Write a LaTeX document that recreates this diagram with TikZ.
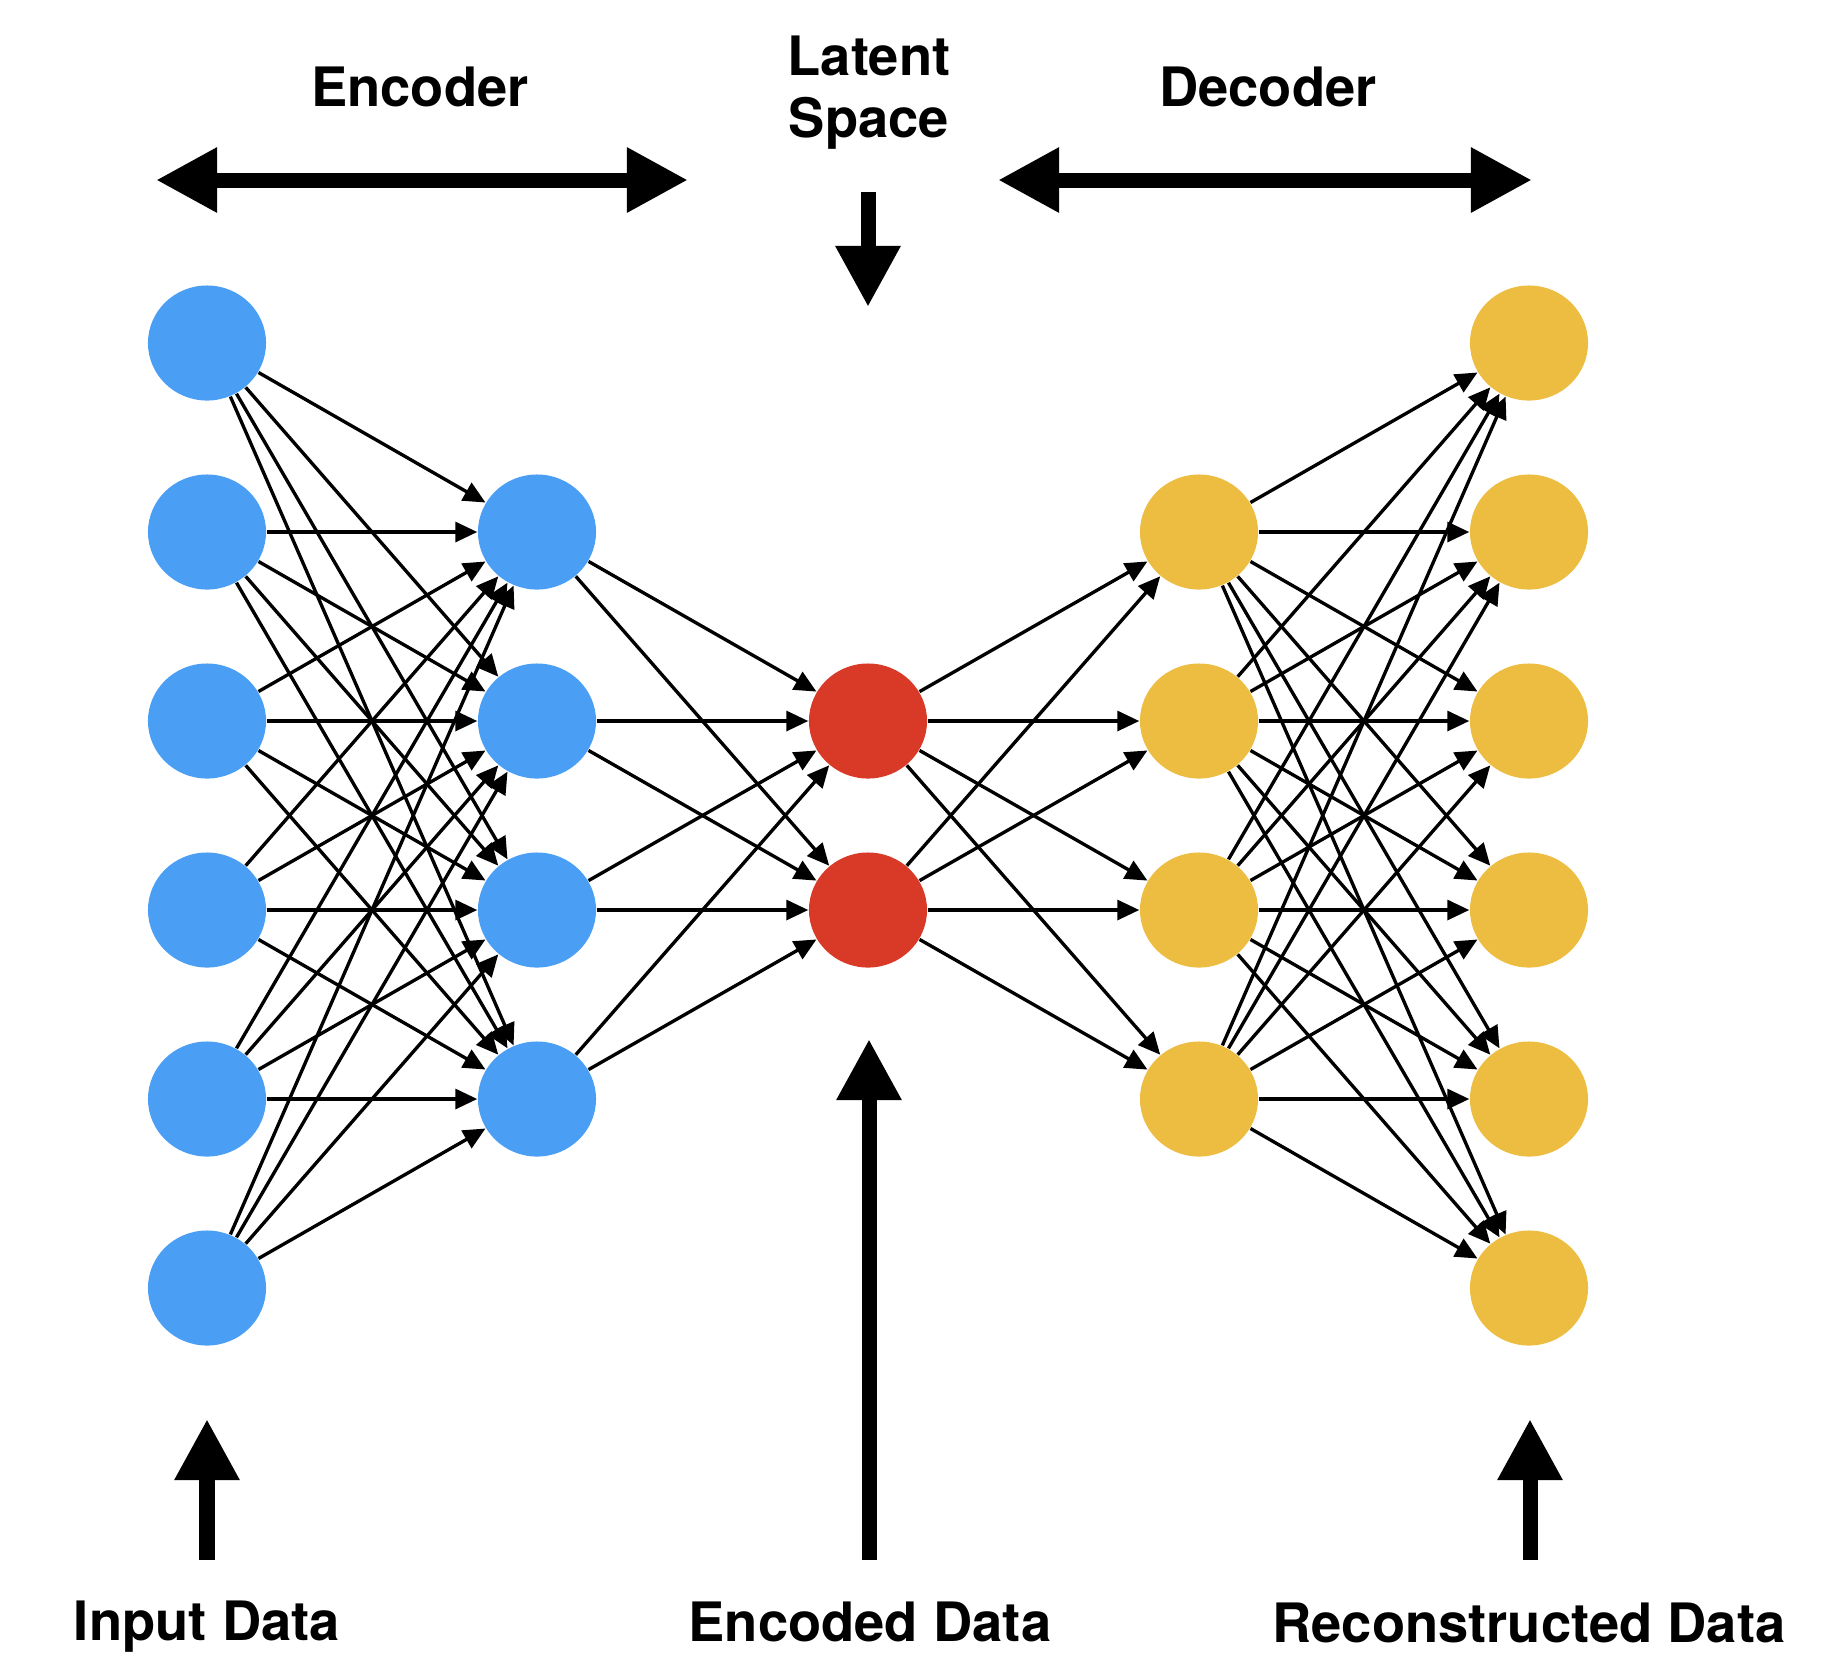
\documentclass[tikz,border=0pt]{standalone}
\usepackage{fontspec}
\setmainfont{TeX Gyre Heros}
\usetikzlibrary{arrows.meta,shapes.geometric}
\definecolor{inblue}{HTML}{4A9FF5}
\definecolor{latred}{HTML}{D93A27}
\definecolor{outyellow}{HTML}{EDBD42}
\begin{document}
\begin{tikzpicture}[x=0.01cm, y=-0.01cm, line join=round,
	font=\fontsize{15.45}{18}\selectfont\bfseries,
	neuron/.style={ellipse, minimum width=1.18cm, minimum height=1.15cm, inner sep=0pt},
	conn/.style={line width=0.95pt, -{Triangle[length=0.22cm,width=0.2cm]}},
	big/.style={line width=0.15cm, >={Triangle[length=0.61cm,width=0.61cm]}},
	lbl/.style={anchor=base, inner sep=0pt}]
	\useasboundingbox (0,0) rectangle (1838,1662);
	\path
	(156,180)coordinate(encL)
	(688,180)coordinate(encR)
	(998,180)coordinate(decL)
	(1532,180)coordinate(decR)
	(868,192)coordinate(latT)
	(868,307)coordinate(latB)
	(869,1560)coordinate(codeB)
	(869,1039)coordinate(codeT)
	(207,1560)coordinate(inB)
	(207,1419)coordinate(inT)
	(1530,1560)coordinate(recB)
	(1530,1419)coordinate(recT)
	;
	\foreach \r in {1,...,6} {
		\node[neuron, fill=inblue] (A\r) at (207,{154+189*\r}) {};
		\node[neuron, fill=outyellow] (E\r) at (1529,{154+189*\r}) {};
	}
	\foreach \r in {2,...,5} {
		\node[neuron, fill=inblue] (B\r) at (537,{154+189*\r}) {};
		\node[neuron, fill=outyellow] (D\r) at (1199,{154+189*\r}) {};
	}
	\foreach \r in {3,4} \node[neuron, fill=latred] (C\r) at (868,{154+189*\r}) {};
	\foreach \i in {1,...,6} \foreach \j in {2,...,5} {
		\draw[conn] (A\i) -- (B\j);
		\draw[conn] (D\j) -- (E\i);
	}
	\foreach \i in {2,...,5} \foreach \j in {3,4} {
		\draw[conn] (B\i) -- (C\j);
		\draw[conn] (C\j) -- (D\i);
	}
	\draw[big,<->] (encL)--(encR);
	\draw[big,<->] (decL)--(decR);
	\draw[big,->] (latT)--(latB);
	\draw[big,->] (codeB)--(codeT);
	\draw[big,->] (inB)--(inT);
	\draw[big,->] (recB)--(recT);
	\node[lbl] (enc) at (420,106) {Encoder};
	\node[lbl] (dec) at (1268,106) {Decoder};
	\node[lbl] (lat1) at (869,75) {Latent};
	\node[lbl] (lat2) at (869,137) {Space};
	\node[lbl] (inp) at (207,1640) {Input Data};
	\node[lbl] (code) at (870,1641) {Encoded Data};
	\node[lbl] (rec) at (1529,1642) {Reconstructed Data};
\end{tikzpicture}
\end{document}
